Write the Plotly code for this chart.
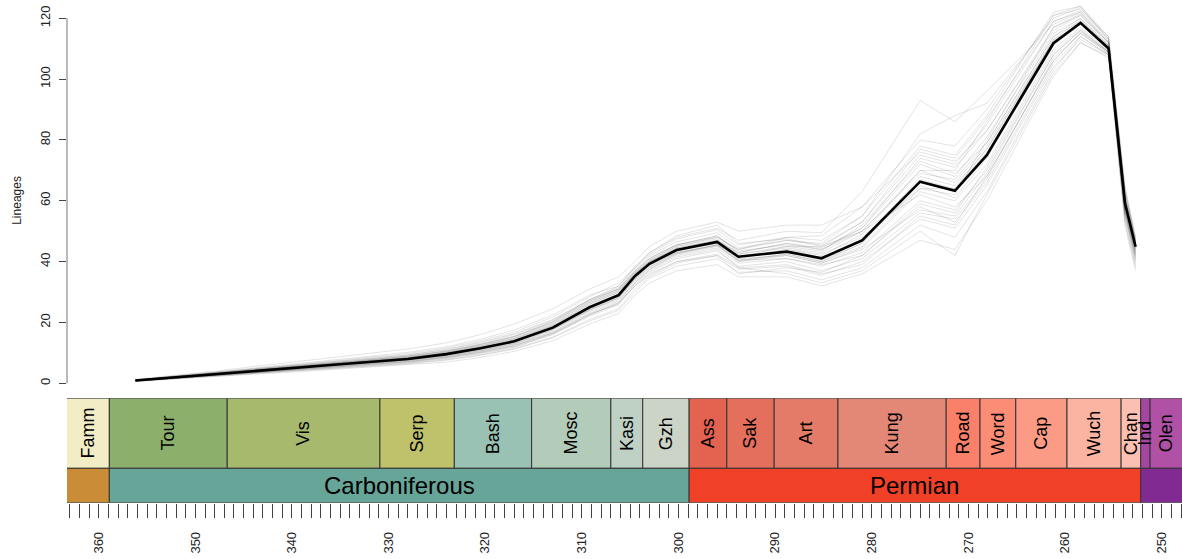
import plotly.graph_objects as go

# ---------------------------------------------------------------------------
# Lineage-through-time curves (ages in Ma)
# ---------------------------------------------------------------------------
ages = [356.2, 352, 348, 344, 340, 336, 332, 328, 324, 320.5, 317, 313.0, 309.2,
        306.2, 304.5, 303.0, 300.2, 296.0, 293.8, 288.8, 285.2, 281.0, 275.0,
        271.4, 268.1, 261.2, 258.4, 255.5, 253.8, 252.7]

mean_lineages = [0.9, 2.0, 3.1, 4.1, 5.1, 6.0, 7.0, 8.0, 9.6, 11.5, 13.8, 18.3, 25.0,
                 29.0, 35.3, 39.3, 43.8, 46.5, 41.6, 43.3, 41.1, 47.0, 66.3,
                 63.3, 75.0, 111.8, 118.5, 110.1, 59.2, 44.9]

replicates = [
    [1.2, 2.4, 3.7, 5.0, 6.3, 7.5, 8.8, 10.2, 12.0, 14.5, 17.5, 22.5, 29.0, 32.0, 38.5, 43.0, 48.0, 51.0, 47.0, 50.0, 49.5, 63.0, 93.0, 86.0, 96.0, 118.0, 122.0, 112.0, 62.0, 46.0],
    [1.1, 2.3, 3.6, 4.8, 6.0, 7.2, 8.5, 9.8, 11.6, 14.0, 16.8, 21.8, 28.5, 33.0, 38.0, 42.5, 47.5, 50.5, 45.5, 48.0, 47.0, 55.0, 78.0, 75.0, 88.0, 122.0, 124.0, 113.0, 63.0, 47.0],
    [0.7, 1.6, 2.5, 3.2, 4.0, 4.8, 5.6, 6.4, 7.6, 9.2, 11.2, 15.0, 20.5, 24.0, 30.0, 34.5, 38.5, 41.0, 36.5, 37.0, 34.0, 38.0, 52.0, 48.0, 63.0, 103.0, 114.0, 108.0, 55.0, 40.0],
    [1.0, 2.2, 3.4, 4.5, 5.6, 6.6, 7.7, 8.9, 10.6, 12.8, 15.4, 20.0, 27.0, 31.0, 37.0, 41.5, 45.5, 48.5, 43.5, 45.5, 44.0, 51.0, 72.0, 68.0, 81.0, 115.0, 120.0, 111.0, 61.0, 45.0],
    [0.8, 1.8, 2.8, 3.7, 4.6, 5.5, 6.4, 7.3, 8.7, 10.5, 12.6, 16.8, 23.0, 27.0, 33.5, 37.5, 42.0, 44.5, 39.5, 41.0, 38.5, 43.0, 60.0, 57.0, 70.0, 108.0, 116.0, 109.0, 57.0, 43.0],
    [0.6, 1.5, 2.3, 3.0, 3.7, 4.5, 5.2, 6.0, 7.0, 8.5, 10.5, 14.0, 19.5, 23.0, 29.0, 33.0, 37.0, 39.0, 35.0, 35.0, 32.0, 36.0, 47.0, 44.0, 60.0, 101.0, 112.0, 107.0, 52.0, 37.0],
    [1.3, 2.6, 4.0, 5.5, 7.0, 8.3, 9.8, 11.3, 13.3, 16.0, 19.5, 24.5, 31.0, 35.0, 40.0, 45.0, 50.0, 53.0, 50.0, 52.0, 52.0, 58.0, 80.0, 78.0, 90.0, 121.0, 123.0, 114.0, 64.0, 47.5],
    [0.9, 2.0, 3.1, 4.2, 5.2, 6.1, 7.1, 8.1, 9.7, 11.6, 14.0, 18.5, 25.0, 29.5, 35.5, 39.5, 44.0, 46.5, 42.0, 43.5, 41.5, 47.5, 67.0, 64.0, 76.0, 112.0, 119.0, 110.5, 59.5, 44.5],
    [0.9, 1.9, 2.9, 3.9, 4.8, 5.7, 6.6, 7.6, 9.0, 10.8, 13.0, 17.5, 24.0, 28.0, 34.5, 38.5, 43.0, 45.5, 40.5, 42.5, 40.0, 45.0, 64.0, 62.0, 80.0, 117.0, 121.0, 112.0, 60.0, 44.0],
    [1.0, 2.1, 3.2, 4.3, 5.4, 6.4, 7.4, 8.5, 10.1, 12.2, 14.6, 19.2, 26.0, 30.0, 36.5, 40.5, 45.0, 47.5, 42.5, 44.5, 43.0, 50.0, 62.0, 58.0, 68.0, 106.0, 115.0, 109.0, 57.5, 42.5],
    [0.8, 1.7, 2.7, 3.5, 4.4, 5.2, 6.1, 7.0, 8.3, 10.0, 12.0, 16.2, 22.0, 26.0, 32.5, 36.5, 41.0, 43.5, 38.5, 40.0, 37.0, 41.0, 56.0, 54.0, 67.0, 107.0, 115.0, 108.5, 56.0, 41.0],
    [1.1, 2.3, 3.5, 4.6, 5.8, 6.9, 8.0, 9.3, 11.0, 13.3, 16.0, 20.8, 27.5, 31.5, 37.5, 42.0, 46.5, 49.5, 44.5, 47.0, 45.5, 53.0, 75.0, 72.0, 85.0, 119.0, 122.0, 112.5, 62.0, 46.0],
    [0.7, 1.6, 2.4, 3.3, 4.1, 4.9, 5.7, 6.6, 7.8, 9.4, 11.4, 15.2, 21.0, 24.5, 31.0, 35.0, 39.5, 42.0, 37.5, 38.5, 35.5, 40.0, 54.0, 51.0, 65.0, 104.0, 113.0, 108.0, 54.0, 39.0],
    [0.9, 2.0, 3.0, 4.0, 5.0, 5.9, 6.9, 7.9, 9.4, 11.3, 13.6, 18.0, 24.5, 28.5, 34.5, 39.0, 43.5, 46.0, 41.0, 44.0, 42.0, 49.0, 70.0, 66.0, 78.0, 113.0, 118.0, 110.0, 58.5, 45.5],
    [1.0, 2.2, 3.3, 4.4, 5.5, 6.5, 7.5, 8.7, 10.3, 12.5, 15.0, 19.8, 26.5, 30.5, 36.5, 41.0, 45.5, 48.0, 44.0, 47.0, 46.0, 55.0, 82.0, 88.0, 92.0, 120.0, 123.5, 113.0, 61.0, 46.5],
    [0.8, 1.8, 2.8, 3.8, 4.7, 5.6, 6.5, 7.5, 8.9, 10.7, 12.9, 17.0, 23.5, 27.5, 33.0, 37.0, 41.5, 44.0, 38.0, 36.0, 33.0, 37.0, 50.0, 42.0, 62.0, 102.0, 112.0, 107.5, 53.0, 38.0],
    [1.0, 2.1, 3.3, 4.4, 5.4, 6.4, 7.4, 8.5, 10.2, 12.3, 14.8, 19.5, 26.5, 30.5, 36.0, 40.0, 44.5, 47.0, 42.5, 45.0, 43.5, 52.0, 73.0, 69.0, 79.0, 114.0, 120.0, 111.0, 60.0, 45.0],
    [0.9, 1.9, 3.0, 3.9, 4.9, 5.8, 6.7, 7.7, 9.2, 11.0, 13.2, 17.7, 24.0, 28.0, 34.0, 38.0, 42.5, 45.0, 40.0, 42.0, 39.5, 44.5, 63.0, 60.0, 72.0, 110.0, 117.0, 109.5, 58.0, 43.5],
    [1.0, 2.1, 3.1, 4.1, 5.2, 6.2, 7.2, 8.3, 9.9, 11.9, 14.3, 18.9, 25.5, 29.5, 35.5, 40.0, 44.5, 47.0, 43.0, 46.0, 44.0, 50.0, 70.0, 70.0, 86.0, 121.0, 124.0, 114.0, 65.0, 48.0],
    [0.9, 2.0, 3.1, 4.1, 5.1, 6.0, 7.0, 8.0, 9.5, 11.4, 13.7, 18.2, 24.8, 28.8, 35.0, 39.0, 43.0, 45.5, 40.5, 41.0, 39.0, 42.0, 58.0, 53.0, 66.0, 105.0, 114.0, 108.0, 55.5, 40.5],
    [1.1, 2.3, 3.5, 4.7, 5.9, 7.0, 8.2, 9.4, 11.2, 13.6, 16.3, 21.0, 27.5, 31.0, 36.5, 40.0, 44.0, 46.0, 41.0, 42.0, 39.5, 44.0, 57.0, 55.0, 69.0, 108.0, 116.0, 109.0, 56.5, 42.0],
    [0.8, 1.7, 2.6, 3.4, 4.3, 5.1, 5.9, 6.8, 8.1, 9.8, 11.8, 16.0, 22.5, 26.5, 33.0, 37.5, 42.5, 45.5, 41.5, 45.0, 45.0, 53.0, 77.0, 74.0, 87.0, 119.0, 122.5, 113.5, 63.5, 47.0],
    [1.0, 2.0, 3.2, 4.2, 5.3, 6.2, 7.2, 8.3, 9.8, 11.8, 14.1, 18.6, 25.3, 29.3, 35.8, 40.0, 44.2, 46.8, 41.8, 43.0, 40.5, 46.0, 65.0, 61.0, 74.0, 111.0, 118.0, 110.0, 59.0, 44.0],
    [0.8, 1.7, 2.6, 3.6, 4.4, 5.3, 6.2, 7.1, 8.5, 10.2, 12.3, 16.5, 22.5, 26.5, 32.0, 36.0, 40.0, 42.5, 38.0, 39.0, 36.0, 39.0, 55.0, 52.0, 68.0, 106.0, 115.5, 108.5, 56.0, 41.5],
    [1.0, 2.1, 3.2, 4.3, 5.3, 6.3, 7.3, 8.4, 10.0, 12.0, 14.5, 19.0, 26.0, 30.0, 36.0, 40.5, 45.0, 48.0, 44.0, 48.0, 48.5, 58.0, 76.0, 73.0, 83.0, 116.0, 121.0, 111.5, 60.5, 45.5],
    [0.9, 1.9, 2.9, 3.9, 4.9, 5.8, 6.8, 7.8, 9.3, 11.1, 13.4, 17.8, 24.2, 28.2, 34.2, 38.2, 42.8, 45.3, 40.2, 42.5, 40.0, 46.0, 68.0, 65.0, 77.0, 113.0, 119.5, 110.5, 58.0, 43.0],
    [1.0, 2.2, 3.3, 4.5, 5.6, 6.7, 7.8, 8.9, 10.5, 12.7, 15.3, 20.3, 27.5, 32.0, 38.0, 43.0, 48.5, 52.0, 46.0, 47.5, 45.0, 50.0, 69.0, 67.0, 79.0, 114.0, 119.0, 111.0, 60.0, 45.0],
    [0.8, 1.8, 2.7, 3.6, 4.5, 5.4, 6.3, 7.2, 8.6, 10.3, 12.4, 16.5, 22.8, 26.0, 32.0, 35.5, 40.0, 42.0, 36.0, 38.0, 36.5, 42.0, 59.0, 56.0, 71.0, 109.0, 116.5, 109.0, 57.0, 42.0],
    [1.0, 2.1, 3.2, 4.2, 5.2, 6.2, 7.2, 8.2, 9.8, 11.7, 14.0, 18.6, 25.2, 29.0, 35.0, 39.2, 43.5, 46.2, 41.5, 44.0, 42.5, 48.0, 64.0, 64.0, 77.0, 112.5, 118.5, 110.5, 59.5, 44.8],
    [1.1, 2.2, 3.4, 4.5, 5.6, 6.7, 7.8, 9.0, 10.7, 12.9, 15.5, 20.4, 27.0, 31.0, 37.0, 41.0, 45.5, 48.5, 43.0, 46.0, 44.5, 51.0, 74.0, 71.0, 83.0, 117.0, 121.5, 112.0, 61.5, 46.0],
]

y_ticks = [0, 20, 40, 60, 80, 100, 120]

# ---------------------------------------------------------------------------
# Geological time scale (GTS 2012, Ma)
# ---------------------------------------------------------------------------
stage_names = ["Famm", "Tour", "Vis", "Serp", "Bash", "Mosc", "Kasi", "Gzh",
               "Ass", "Sak", "Art", "Kung", "Road", "Word", "Cap", "Wuch",
               "Chan", "Ind", "Olen"]
stage_start = [372.2, 358.9, 346.7, 330.9, 323.2, 315.2, 307.0, 303.7,
               298.9, 295.0, 290.1, 283.5, 272.3, 268.8, 265.1, 259.8,
               254.2, 252.17, 251.2]
stage_end = [358.9, 346.7, 330.9, 323.2, 315.2, 307.0, 303.7, 298.9,
             295.0, 290.1, 283.5, 272.3, 268.8, 265.1, 259.8, 254.2,
             252.17, 251.2, 247.2]
stage_colors = ["#F2EDC5", "#8CB06C", "#A6B96C", "#BFC26B", "#99C2B5", "#B3CBB9",
                "#BFD0C5", "#CCD4C7", "#E36350", "#E36F5C", "#E37B68", "#E38776",
                "#FB8069", "#FB8D76", "#FB9A85", "#FCB4A2", "#FCC0B2", "#A4469F",
                "#B051A5"]

period_names = ["", "Carboniferous", "Permian", ""]
period_start = [419.2, 358.9, 298.9, 252.17]
period_end = [358.9, 298.9, 252.17, 201.3]
period_colors = ["#CB8C37", "#67A599", "#F04028", "#812B92"]

# ---------------------------------------------------------------------------
# Layout geometry
# ---------------------------------------------------------------------------
W, H = 1182, 559
AGE_RANGE = [363.28, 247.9]          # older on the left
X_DOMAIN = [67 / W, 1.0]
MAIN_DOMAIN = [1 - 390 / H, 1.0]
MAIN_RANGE = [-2.2, 126.02]
SCALE_DOMAIN = [1 - 502.7 / H, 1 - 398.3 / H]
PERIOD_H, STAGE_H = 34.4, 70.0       # row heights in scale-panel units
FONT = "Liberation Sans, Arial, sans-serif"

fig = go.Figure()

for rep in replicates:
    fig.add_trace(go.Scatter(
        x=ages, y=rep, mode="lines", xaxis="x", yaxis="y",
        line=dict(color="rgba(0,0,0,0.11)", width=1),
        hoverinfo="skip", showlegend=False))

fig.add_trace(go.Scatter(
    x=ages, y=mean_lineages, mode="lines", xaxis="x", yaxis="y",
    line=dict(color="black", width=2.6), showlegend=False))

# anchor trace so the time-scale axes are rendered
fig.add_trace(go.Scatter(x=[AGE_RANGE[0]], y=[0], xaxis="x2", yaxis="y2",
                         mode="markers", marker=dict(opacity=0),
                         hoverinfo="skip", showlegend=False))

shapes = []
annotations = []
lo_age, hi_age = AGE_RANGE[1], AGE_RANGE[0]


def visible_mid(a, b):
    a2, b2 = min(a, hi_age), max(b, lo_age)
    return (a2 + b2) / 2


for name, s, e, c in zip(stage_names, stage_start, stage_end, stage_colors):
    shapes.append(dict(type="rect", xref="x2", yref="y2", x0=s, x1=e,
                       y0=PERIOD_H, y1=PERIOD_H + STAGE_H, fillcolor=c,
                       line=dict(color="#333333", width=1), layer="below"))
    annotations.append(dict(x=visible_mid(s, e), y=PERIOD_H + STAGE_H / 2,
                            xref="x2", yref="y2", text=name, showarrow=False,
                            textangle=-90, xanchor="center", yanchor="middle",
                            font=dict(family=FONT, size=18, color="black")))

for name, s, e, c in zip(period_names, period_start, period_end, period_colors):
    shapes.append(dict(type="rect", xref="x2", yref="y2", x0=s, x1=e,
                       y0=0, y1=PERIOD_H, fillcolor=c,
                       line=dict(color="#333333", width=1), layer="below"))
    if name:
        annotations.append(dict(x=visible_mid(s, e), y=PERIOD_H / 2,
                                xref="x2", yref="y2", text=name, showarrow=False,
                                xanchor="center", yanchor="middle",
                                font=dict(family=FONT, size=24, color="black")))

# y-axis line spanning the labelled range only
shapes.append(dict(type="line", xref="paper", yref="y", x0=X_DOMAIN[0], x1=X_DOMAIN[0],
                   y0=y_ticks[0], y1=y_ticks[-1], line=dict(color="#777777", width=1)))

annotations.append(dict(x=17 / W, y=60, xref="paper", yref="y", text="Lineages",
                        showarrow=False, textangle=-90, xanchor="center",
                        yanchor="middle", font=dict(family=FONT, size=12, color="#222222")))

fig.update_layout(
    width=W, height=H,
    margin=dict(l=0, r=0, t=0, b=0),
    paper_bgcolor="white", plot_bgcolor="white",
    showlegend=False,
    font=dict(family=FONT, color="#222222"),
    xaxis=dict(domain=X_DOMAIN, range=AGE_RANGE, anchor="y",
               showticklabels=False, ticks="", showgrid=False,
               zeroline=False, showline=False),
    yaxis=dict(domain=MAIN_DOMAIN, range=MAIN_RANGE, anchor="x",
               tickvals=y_ticks, ticks="outside", ticklen=7,
               tickcolor="#444444", tickwidth=1, tickangle=-90,
               tickfont=dict(family=FONT, size=13, color="#222222"),
               ticklabelstandoff=4, showgrid=False, zeroline=False,
               showline=False),
    xaxis2=dict(domain=X_DOMAIN, range=AGE_RANGE, anchor="y2",
                tick0=0, dtick=10, ticks="outside", ticklen=14,
                tickcolor="#444444", tickwidth=1, tickangle=-90,
                tickfont=dict(family=FONT, size=13, color="#222222"),
                ticklabelstandoff=9,
                minor=dict(tick0=0, dtick=1, ticks="outside", ticklen=14,
                           tickcolor="#444444", tickwidth=1, showgrid=False),
                showgrid=False, zeroline=False, showline=False),
    yaxis2=dict(domain=SCALE_DOMAIN, range=[0, PERIOD_H + STAGE_H], anchor="x2",
                showticklabels=False, ticks="", showgrid=False,
                zeroline=False, showline=False),
    shapes=shapes,
    annotations=annotations,
)

fig.write_html("out.html")
